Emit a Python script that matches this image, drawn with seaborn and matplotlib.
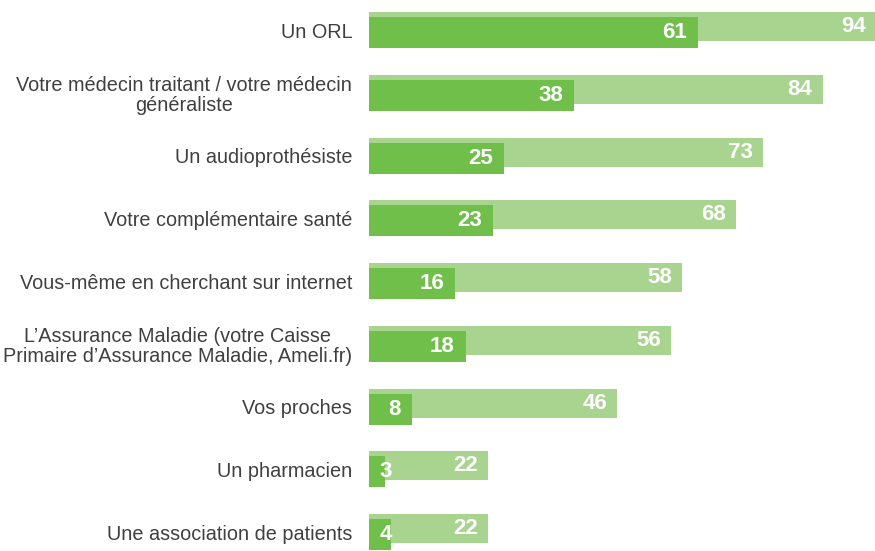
"""
Barres horizontales superposées : sources d'information consultées.
Barre claire = total, barre foncée = sous-ensemble, légèrement décalée vers le bas.
"""

import pandas as pd
import matplotlib.pyplot as plt
import seaborn as sns


# -----------------------------
# Données
# -----------------------------
categories = [
    "Un ORL",
    "Votre médecin traitant / votre médecin\ngénéraliste",
    "Un audioprothésiste",
    "Votre complémentaire santé",
    "Vous-même en cherchant sur internet",
    "L’Assurance Maladie (votre Caisse\nPrimaire d’Assurance Maladie, Ameli.fr)",
    "Vos proches",
    "Un pharmacien",
    "Une association de patients",
]
total_values = [94, 84, 73, 68, 58, 56, 46, 22, 22]
first_values = [61, 38, 25, 23, 16, 18, 8, 3, 4]

# -----------------------------
# Style
# -----------------------------
LIGHT_GREEN = "#A9D48F"
DARK_GREEN = "#70BF4B"
TEXT_GRAY = "#404040"

LIGHT_HEIGHT, LIGHT_SHIFT = 0.462, -0.056
DARK_HEIGHT, DARK_SHIFT = 0.494, 0.040


def shift_bars(container, dy):
    for bar in container:
        bar.set_y(bar.get_y() + dy)


def main():
    sns.set_theme(style="white")
    plt.rcParams["font.family"] = ["Liberation Sans", "DejaVu Sans"]

    df = pd.DataFrame({
        "categorie": categories,
        "total": total_values,
        "premier": first_values,
    })

    fig = plt.figure(figsize=(8.75, 5.51), dpi=100)
    ax = fig.add_axes([369 / 875, 0.0, 506 / 875, 1.0])

    # barre claire (total) derrière
    sns.barplot(data=df, x="total", y="categorie", orient="h", color=LIGHT_GREEN,
                width=LIGHT_HEIGHT, saturation=1, linewidth=0, ax=ax)
    shift_bars(ax.containers[0], LIGHT_SHIFT)

    # barre foncée devant
    sns.barplot(data=df, x="premier", y="categorie", orient="h", color=DARK_GREEN,
                width=DARK_HEIGHT, saturation=1, linewidth=0, ax=ax)
    shift_bars(ax.containers[1], DARK_SHIFT)

    # étiquettes de valeurs (blanches, à l'intérieur de la fin de barre)
    for bar, v in zip(ax.containers[0], total_values):
        yc = bar.get_y() + bar.get_height() / 2
        ax.text(v - 1.9, yc, str(v), ha="right", va="center", color="white",
                fontsize=16, fontweight="bold")
    for bar, v in zip(ax.containers[1], first_values):
        yc = bar.get_y() + bar.get_height() / 2
        ax.text(max(v - 2.1, 4.25), yc, str(v), ha="right", va="center", color="white",
                fontsize=16, fontweight="bold", zorder=5)

    ax.set_xlim(0, 93.7)
    ax.set_ylim(8.30, -0.478)
    ax.set_xlabel("")
    ax.set_ylabel("")
    ax.set_xticks([])
    sns.despine(ax=ax, left=True, bottom=True)
    ax.tick_params(axis="y", length=0, pad=12, labelsize=14.3, labelcolor=TEXT_GRAY)
    for t in ax.get_yticklabels():
        t.set_multialignment("center")
        t.set_linespacing(1.1)

    fig.savefig("out.png", dpi=100)
    plt.close(fig)


if __name__ == "__main__":
    main()
